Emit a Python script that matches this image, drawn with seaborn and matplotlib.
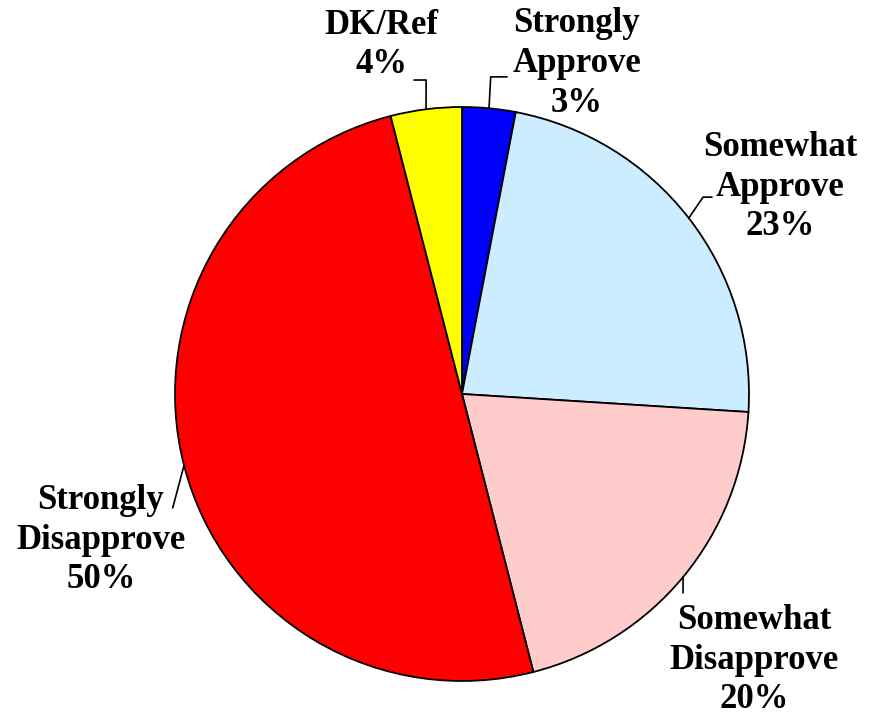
import matplotlib
matplotlib.use('Agg')
import matplotlib.pyplot as plt
import numpy as np
import seaborn as sns

# chart data
labels = ['Strongly\nApprove', 'Somewhat\nApprove', 'Somewhat\nDisapprove', 'Strongly\nDisapprove', 'DK/Ref']
values = [3, 23, 20, 50, 4]
colors = ['#0000FF', '#CCECFF', '#FFCCCC', '#FF0000', '#FFFF00']

# label placement (in units of the pie radius, centre at 0,0)
text_pos = [(0.40, 1.152), (1.108, 0.721), (1.017, -0.927), (-1.258, -0.509), (-0.279, 1.216)]
# leader line elbows after leaving the wedge edge
elbows = [
    [(0.10, 1.105), (0.157, 1.105)],
    [(0.840, 0.686), (0.871, 0.686)],
    [(0.770, -0.693)],
    [(-1.008, -0.397)],
    [(-0.125, 1.094), (-0.167, 1.094)],
]

sns.set_theme(style='white')
plt.rcParams['font.family'] = ['Liberation Serif', 'DejaVu Serif']
plt.rcParams['text.color'] = 'black'

fig = plt.figure(figsize=(8.74, 7.18), dpi=100)
cx, cy, r = 462, 394, 287
W, H = 874, 718
ax = fig.add_axes([(cx - r) / W, (H - cy - r) / H, 2 * r / W, 2 * r / H])

wedges, _ = ax.pie(values, colors=colors, startangle=90, counterclock=False,
                   wedgeprops={'edgecolor': 'black', 'linewidth': 1.3})

total = float(sum(values))
cum = np.cumsum([0] + values)
for i, lab in enumerate(labels):
    mid = 90 - 360 * (cum[i] + values[i] / 2.0) / total
    sx, sy = np.cos(np.radians(mid)), np.sin(np.radians(mid))
    pts = [(sx, sy)] + elbows[i]
    ax.plot([p[0] for p in pts], [p[1] for p in pts], color='black', lw=1.2, clip_on=False)
    tx, ty = text_pos[i]
    ax.text(tx, ty, '%s\n%d%%' % (lab, values[i]), ha='center', va='center',
            fontsize=25, fontweight='bold', linespacing=1.27, color='black')

ax.set_xlim(-1, 1)
ax.set_ylim(-1, 1)
ax.set_aspect('equal')
ax.axis('off')

fig.savefig('out.png', dpi=100)
